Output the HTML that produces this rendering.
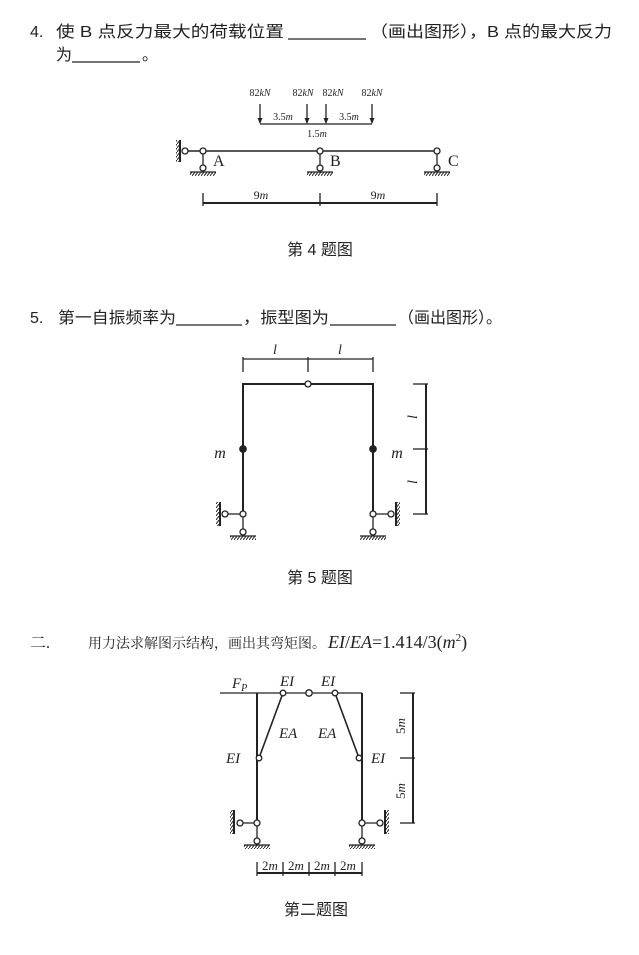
<!DOCTYPE html>
<html><head><meta charset="utf-8"><style>
html,body{margin:0;padding:0;background:#fff;}
svg{display:block;}
.t{font-family:"Liberation Sans","Noto Sans CJK SC",sans-serif;font-size:16px;fill:#222;}
.s{font-family:"Liberation Serif","Noto Serif CJK SC",serif;fill:#222;}
.i{font-family:"Liberation Serif",serif;font-style:italic;fill:#222;}
</style></head><body>
<svg width="639" height="955" viewBox="0 0 639 955" xmlns="http://www.w3.org/2000/svg">
<defs>
<pattern id="h" width="3" height="4" patternUnits="userSpaceOnUse"><path d="M3 0 L0 4" stroke="#222" stroke-width="1"/></pattern>
</defs>
<!-- Text lines -->
<text class="t" x="30" y="37">4.</text>
<text class="t" x="56" y="37" textLength="228" lengthAdjust="spacingAndGlyphs">使 B 点反力最大的荷载位置</text>
<line x1="288" y1="39" x2="366" y2="39" stroke="#222" stroke-width="1.3"/>
<text class="t" x="370" y="37" textLength="242" lengthAdjust="spacingAndGlyphs">（画出图形），B 点的最大反力</text>
<text class="t" x="56" y="60">为</text>
<line x1="72" y1="62" x2="140" y2="62" stroke="#222" stroke-width="1.3"/>
<text class="t" x="142" y="60">。</text>

<text class="t" x="30" y="323">5.</text>
<text class="t" x="58" y="323" textLength="118" lengthAdjust="spacingAndGlyphs">第一自振频率为</text>
<line x1="176" y1="325" x2="242" y2="325" stroke="#222" stroke-width="1.3"/>
<text class="t" x="243" y="323" textLength="86" lengthAdjust="spacingAndGlyphs">，振型图为</text>
<line x1="330" y1="325" x2="396" y2="325" stroke="#222" stroke-width="1.3"/>
<text class="t" x="398" y="323" textLength="104" lengthAdjust="spacingAndGlyphs">（画出图形）。</text>

<text class="s" x="30" y="648" font-size="16">二.</text>
<text class="s" x="88" y="648" font-size="14" textLength="238" lengthAdjust="spacing">用力法求解图示结构，画出其弯矩图。</text>
<text class="s" x="328" y="648" font-size="18"><tspan font-style="italic">EI</tspan>/<tspan font-style="italic">EA</tspan>=1.414/3(<tspan font-style="italic">m</tspan><tspan font-size="11" dy="-7">2</tspan><tspan dy="7">)</tspan></text>

<!-- Figure 4 -->
<g stroke="#222" fill="none" stroke-width="1.3">
<line x1="260" y1="104" x2="260" y2="123"/><line x1="307" y1="104" x2="307" y2="123"/>
<line x1="326" y1="104" x2="326" y2="123"/><line x1="372" y1="104" x2="372" y2="123"/>
<line x1="260" y1="124" x2="372" y2="124"/>
<line x1="184" y1="151" x2="437" y2="151" stroke-width="1.6"/>
<line x1="180" y1="140" x2="180" y2="162" stroke-width="2"/>
<rect x="176" y="140" width="4" height="22" fill="url(#h)" stroke="none"/>
<line x1="203" y1="151" x2="203" y2="168"/><line x1="320" y1="151" x2="320" y2="168"/><line x1="437" y1="151" x2="437" y2="168"/>
<line x1="190" y1="172" x2="216" y2="172"/><line x1="307" y1="172" x2="333" y2="172"/><line x1="424" y1="172" x2="450" y2="172"/>
<rect x="190" y="172" width="26" height="4" fill="url(#h)" stroke="none"/>
<rect x="307" y="172" width="26" height="4" fill="url(#h)" stroke="none"/>
<rect x="424" y="172" width="26" height="4" fill="url(#h)" stroke="none"/>
<g fill="#fff"><circle cx="185" cy="151" r="3"/><circle cx="203" cy="151" r="3"/><circle cx="320" cy="151" r="3"/><circle cx="437" cy="151" r="3"/>
<circle cx="203" cy="168" r="3"/><circle cx="320" cy="168" r="3"/><circle cx="437" cy="168" r="3"/></g>
<line x1="203" y1="203" x2="437" y2="203" stroke-width="2"/>
<line x1="203" y1="193" x2="203" y2="206"/><line x1="320" y1="193" x2="320" y2="206"/><line x1="437" y1="193" x2="437" y2="206"/>
</g>
<g fill="#222" stroke="none">
<path d="M257.5 118 L262.5 118 L260 124Z"/><path d="M304.5 118 L309.5 118 L307 124Z"/><path d="M323.5 118 L328.5 118 L326 124Z"/><path d="M369.5 118 L374.5 118 L372 124Z"/>
</g>
<g font-size="10" text-anchor="middle">
<text class="s" x="260" y="96">82<tspan font-style="italic">kN</tspan></text>
<text class="s" x="303" y="96">82<tspan font-style="italic">kN</tspan></text>
<text class="s" x="333" y="96">82<tspan font-style="italic">kN</tspan></text>
<text class="s" x="372" y="96">82<tspan font-style="italic">kN</tspan></text>
<text class="s" x="283" y="120">3.5<tspan font-style="italic">m</tspan></text>
<text class="s" x="349" y="120">3.5<tspan font-style="italic">m</tspan></text>
<text class="s" x="317" y="137">1.5<tspan font-style="italic">m</tspan></text>
<text class="s" x="261" y="199" font-size="12">9<tspan font-style="italic">m</tspan></text>
<text class="s" x="378" y="199" font-size="12">9<tspan font-style="italic">m</tspan></text>
</g>
<text class="s" x="213" y="166" font-size="16">A</text>
<text class="s" x="330" y="166" font-size="16">B</text>
<text class="s" x="448" y="166" font-size="16">C</text>
<text class="t" x="320" y="255" text-anchor="middle" font-size="15">第 4 题图</text>

<!-- Figure 5 -->
<g stroke="#222" fill="none" stroke-width="1.3">
<line x1="243" y1="359" x2="373" y2="359"/>
<line x1="243" y1="357" x2="243" y2="372"/><line x1="308" y1="357" x2="308" y2="372"/><line x1="373" y1="357" x2="373" y2="372"/>
<path d="M243 514 L243 384 L373 384 L373 514" stroke-width="2"/>
<line x1="225" y1="514" x2="243" y2="514"/><line x1="373" y1="514" x2="391" y2="514"/>
<line x1="220" y1="502" x2="220" y2="526" stroke-width="2"/><rect x="216" y="502" width="4" height="24" fill="url(#h)" stroke="none"/>
<line x1="396" y1="502" x2="396" y2="526" stroke-width="2"/><rect x="396" y="502" width="4" height="24" fill="url(#h)" stroke="none"/>
<line x1="243" y1="514" x2="243" y2="532"/><line x1="373" y1="514" x2="373" y2="532"/>
<line x1="230" y1="536" x2="256" y2="536"/><line x1="360" y1="536" x2="386" y2="536"/>
<rect x="230" y="536" width="26" height="4" fill="url(#h)" stroke="none"/><rect x="360" y="536" width="26" height="4" fill="url(#h)" stroke="none"/>
<g fill="#fff"><circle cx="308" cy="384" r="3"/><circle cx="225" cy="514" r="3"/><circle cx="243" cy="514" r="3"/><circle cx="373" cy="514" r="3"/><circle cx="391" cy="514" r="3"/><circle cx="243" cy="532" r="3"/><circle cx="373" cy="532" r="3"/></g>
<g fill="#222"><circle cx="243" cy="449" r="3.2"/><circle cx="373" cy="449" r="3.2"/></g>
<line x1="426" y1="384" x2="426" y2="514" stroke-width="2"/>
<line x1="413" y1="384" x2="428" y2="384"/><line x1="413" y1="449" x2="428" y2="449"/><line x1="413" y1="514" x2="428" y2="514"/>
</g>
<text class="i" x="275" y="354" font-size="14" text-anchor="middle">l</text>
<text class="i" x="340" y="354" font-size="14" text-anchor="middle">l</text>
<text class="i" x="220" y="458" font-size="16" text-anchor="middle">m</text>
<text class="i" x="397" y="458" font-size="16" text-anchor="middle">m</text>
<text class="i" x="417" y="417" font-size="14" text-anchor="middle" transform="rotate(-90 417 417)">l</text>
<text class="i" x="417" y="482" font-size="14" text-anchor="middle" transform="rotate(-90 417 482)">l</text>
<text class="t" x="320" y="583" text-anchor="middle" font-size="15">第 5 题图</text>

<!-- Figure 2 -->
<g stroke="#222" fill="none" stroke-width="1.3">
<line x1="220" y1="693" x2="362" y2="693"/>
<line x1="257" y1="693" x2="257" y2="823" stroke-width="2"/>
<line x1="362" y1="693" x2="362" y2="823" stroke-width="2"/>
<line x1="283" y1="693" x2="259" y2="758" stroke-width="1.6"/>
<line x1="335" y1="693" x2="359" y2="758" stroke-width="1.6"/>
<line x1="240" y1="823" x2="257" y2="823"/><line x1="362" y1="823" x2="380" y2="823"/>
<line x1="234" y1="810" x2="234" y2="834" stroke-width="2"/><rect x="230" y="810" width="4" height="24" fill="url(#h)" stroke="none"/>
<line x1="385" y1="810" x2="385" y2="834" stroke-width="2"/><rect x="385" y="810" width="4" height="24" fill="url(#h)" stroke="none"/>
<line x1="257" y1="823" x2="257" y2="841"/><line x1="362" y1="823" x2="362" y2="841"/>
<line x1="244" y1="845" x2="270" y2="845"/><line x1="349" y1="845" x2="375" y2="845"/>
<rect x="244" y="845" width="26" height="4" fill="url(#h)" stroke="none"/><rect x="349" y="845" width="26" height="4" fill="url(#h)" stroke="none"/>
<g fill="#fff"><circle cx="283" cy="693" r="2.8"/><circle cx="309" cy="693" r="3.2"/><circle cx="335" cy="693" r="2.8"/>
<circle cx="259" cy="758" r="2.8"/><circle cx="359" cy="758" r="2.8"/>
<circle cx="240" cy="823" r="3"/><circle cx="257" cy="823" r="3"/><circle cx="362" cy="823" r="3"/><circle cx="380" cy="823" r="3"/>
<circle cx="257" cy="841" r="3"/><circle cx="362" cy="841" r="3"/></g>
<line x1="413" y1="693" x2="413" y2="823" stroke-width="2"/>
<line x1="400" y1="693" x2="415" y2="693"/><line x1="400" y1="758" x2="415" y2="758"/><line x1="400" y1="823" x2="415" y2="823"/>
<line x1="257" y1="873" x2="362" y2="873" stroke-width="2"/>
<line x1="257" y1="862" x2="257" y2="876"/><line x1="283" y1="862" x2="283" y2="876"/><line x1="309" y1="862" x2="309" y2="876"/><line x1="335" y1="862" x2="335" y2="876"/><line x1="362" y1="862" x2="362" y2="876"/>
</g>
<g font-size="15">
<text class="i" x="232" y="688">F<tspan font-size="10" dy="3">P</tspan></text>
<text class="i" x="280" y="686">EI</text>
<text class="i" x="321" y="686">EI</text>
<text class="i" x="279" y="738">EA</text>
<text class="i" x="318" y="738">EA</text>
<text class="i" x="226" y="763">EI</text>
<text class="i" x="371" y="763">EI</text>
</g>
<text class="s" x="405" y="726" font-size="13" text-anchor="middle" transform="rotate(-90 405 726)">5<tspan font-style="italic">m</tspan></text>
<text class="s" x="405" y="791" font-size="13" text-anchor="middle" transform="rotate(-90 405 791)">5<tspan font-style="italic">m</tspan></text>
<g font-size="13" text-anchor="middle">
<text class="s" x="270" y="870">2<tspan font-style="italic">m</tspan></text>
<text class="s" x="296" y="870">2<tspan font-style="italic">m</tspan></text>
<text class="s" x="322" y="870">2<tspan font-style="italic">m</tspan></text>
<text class="s" x="348" y="870">2<tspan font-style="italic">m</tspan></text>
</g>
<text class="t" x="316" y="915" text-anchor="middle" font-size="15">第二题图</text>
</svg>
</body></html>
